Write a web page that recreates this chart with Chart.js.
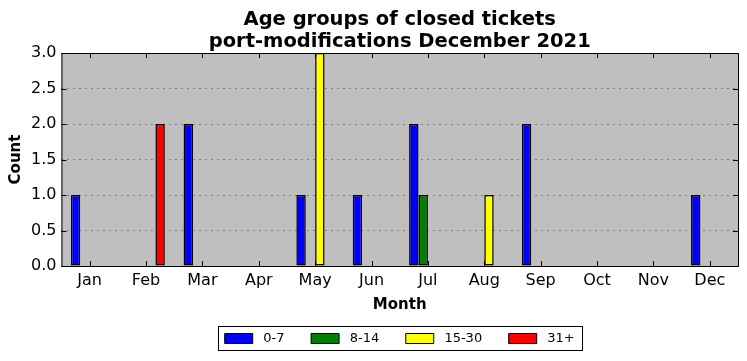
<!DOCTYPE html>
<html>
<head>
<meta charset="utf-8">
<script src="https://cdn.jsdelivr.net/npm/chart.js@4"></script>
<style>
  html, body { margin: 0; padding: 0; background: #fff; }
  #wrap { width: 747px; height: 361px; }
</style>
</head>
<body>
<div id="wrap"><canvas id="grafico" width="747" height="361"></canvas></div>
<script>
const months = ['Jan', 'Feb', 'Mar', 'Apr', 'May', 'Jun', 'Jul', 'Aug', 'Sep', 'Oct', 'Nov', 'Dec'];
const ageGroups = ['0-7', '8-14', '15-30', '31+'];
const age0to7 = [1, 0, 2, 0, 1, 1, 2, 0, 2, 0, 0, 1];
const age8to14 = [0, 0, 0, 0, 0, 0, 1, 0, 0, 0, 0, 0];
const age15to30 = [0, 0, 0, 0, 3, 0, 0, 1, 0, 0, 0, 0];
const age31plus = [0, 2, 0, 0, 0, 0, 0, 0, 0, 0, 0, 0];
const yTicks = [0, 0.5, 1, 1.5, 2, 2.5, 3];
const colors = ['#0000ff', '#008000', '#ffff00', '#ff0000'];
const titleLines = ['Age groups of closed tickets', 'port-modifications December 2021'];

const font = 'DejaVu Sans';

// fondo gris, marco, ticks hacia dentro, título y leyenda centrados sobre el área
const frame = {
  id: 'frame',
  afterLayout(chart) {
    const l = chart.legend, a = chart.chartArea;
    const dx = (a.left + a.right) / 2 - (l.left + l.right) / 2;
    l.left += dx; l.right += dx;
    l.legendHitBoxes.forEach(h => { h.left += dx; });
  },
  beforeDraw(chart) {
    const { ctx, chartArea: a } = chart;
    ctx.save();
    ctx.fillStyle = '#bfbfbf';
    ctx.fillRect(a.left, a.top, a.right - a.left, a.bottom - a.top);
    ctx.restore();
  },
  afterDatasetsDraw(chart) {
    const { ctx, chartArea: a, scales } = chart;
    ctx.save();
    ctx.strokeStyle = '#000';
    ctx.lineWidth = 1;
    scales.x.ticks.forEach((t, i) => {
      const x = Math.round(scales.x.getPixelForTick(i)) + 0.5;
      ctx.beginPath();
      ctx.moveTo(x, a.bottom); ctx.lineTo(x, a.bottom - 5);
      ctx.moveTo(x, a.top); ctx.lineTo(x, a.top + 5);
      ctx.stroke();
    });
    scales.y.ticks.forEach((t, i) => {
      const y = Math.round(scales.y.getPixelForTick(i)) + 0.5;
      ctx.beginPath();
      ctx.moveTo(a.left, y); ctx.lineTo(a.left + 5, y);
      ctx.moveTo(a.right, y); ctx.lineTo(a.right - 5, y);
      ctx.stroke();
    });
    ctx.strokeRect(a.left + 0.5, a.top + 0.5, a.right - a.left, a.bottom - a.top);
    ctx.restore();
  },
  afterDraw(chart) {
    const { ctx, chartArea: a } = chart;
    ctx.save();
    ctx.fillStyle = '#000';
    ctx.textAlign = 'center';
    ctx.textBaseline = 'middle';
    ctx.font = 'bold 19.5px "' + font + '"';
    const cx = (a.left + a.right) / 2;
    ctx.fillText(titleLines[0], cx, 20);
    ctx.fillText(titleLines[1], cx, 42);

    const l = chart.legend;
    const hb = l.legendHitBoxes;
    const first = hb[0], last = hb[hb.length - 1];
    const x0 = Math.round(first.left) - 7;
    const x1 = Math.round(last.left + last.width) + 7;
    const yc = first.top + first.height / 2;
    ctx.strokeStyle = '#000';
    ctx.lineWidth = 1;
    ctx.strokeRect(x0 + 0.5, Math.round(yc - 13) + 0.5, x1 - x0, 24);
    ctx.restore();
  }
};

const series = [age0to7, age8to14, age15to30, age31plus];

new Chart(document.getElementById('grafico').getContext('2d'), {
  type: 'bar',
  data: {
    labels: months,
    datasets: ageGroups.map((g, i) => ({
      label: g,
      data: series[i],
      backgroundColor: colors[i],
      borderColor: '#000',
      borderWidth: 1.5,
      borderSkipped: false,
      categoryPercentage: 0.667,
      barPercentage: 1.0
    }))
  },
  options: {
    responsive: false,
    animation: false,
    devicePixelRatio: 1,
    layout: { padding: { left: 4, right: 9, top: 53, bottom: 6 } },
    plugins: {
      title: { display: false },
      legend: {
        position: 'bottom',
        labels: {
          color: '#000',
          font: { family: font, size: 13 },
          boxWidth: 28,
          boxHeight: 10,
          padding: 10,
          generateLabels(chart) {
            const n = chart.data.datasets.length;
            return chart.data.datasets.map((d, i) => ({
              text: ' ' + d.label + (i < n - 1 ? '    ' : ''),
              fillStyle: d.backgroundColor,
              strokeStyle: '#000',
              lineWidth: 1,
              datasetIndex: i
            }));
          }
        }
      },
      tooltip: { enabled: false }
    },
    scales: {
      x: {
        grid: { display: false, drawTicks: false },
        border: { display: false },
        ticks: { color: '#000', font: { family: font, size: 16, lineHeight: 1.0 }, padding: 7 },
        title: { display: true, text: 'Month', color: '#000', font: { family: font, size: 15, weight: 'bold' }, padding: { top: 0, bottom: 8 } }
      },
      y: {
        min: 0,
        max: 3,
        afterBuildTicks(axis) { axis.ticks = yTicks.map(v => ({ value: v })); },
        grid: { color: '#7f7f7f', drawTicks: false, lineWidth: 1 },
        border: { display: false, dash: [2, 4] },
        ticks: {
          color: '#000',
          font: { family: font, size: 16 },
          padding: 5,
          callback: v => Number(v).toFixed(1)
        },
        title: { display: true, text: 'Count', color: '#000', font: { family: font, size: 15, weight: 'bold' }, padding: { top: 3, bottom: 1 } }
      }
    }
  },
  plugins: [frame]
});
</script>
</body>
</html>
